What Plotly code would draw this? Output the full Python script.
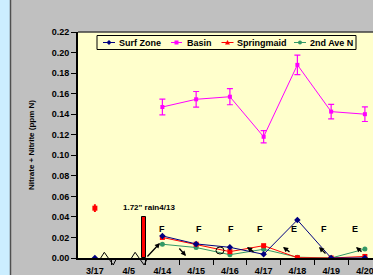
import plotly.graph_objects as go

# ---------------- data ----------------
categories = ["3/17", "4/5", "4/14", "4/15", "4/16", "4/17", "4/18", "4/19", "4/20"]
surf_zone = [0.000, None, 0.0215, 0.0137, 0.0104, 0.0036, 0.0370, 0.000, 0.000]
basin = [None, None, 0.1470, 0.1545, 0.1570, 0.1180, 0.1880, 0.1425, 0.1400]
basin_err = [0, 0, 0.0076, 0.0076, 0.0078, 0.0060, 0.0094, 0.0071, 0.0071]
springmaid = [0.0485, None, 0.0200, 0.0134, 0.0062, 0.0120, 0.0003, 0.000, 0.0015]
springmaid_err = [0.003, 0, 0, 0, 0, 0, 0, 0, 0]
ave2n = [None, None, 0.0134, 0.0102, 0.0032, 0.0085, 0.0008, 0.000, 0.0087]
rain_pos = [1.45]
rain_val = [0.040]
rain_label = '1.72" rain4/13'
flag_pos = [2.0, 3.09, 4.03, 4.88, 5.9, 6.79, 7.72]
flag_txt = ["F", "F", "F", "F", "E", "F", "E"]

xi = list(range(len(categories)))

# ---------------- geometry helpers (pixel -> paper) ----------------
W, H = 373, 275
L, R, T, B = 78, 0, 32, 17
PW, PH = W - L - R, H - T - B


def px(x):
    return (x - L) / PW


def py(y):
    return (H - B - y) / PH


FONT = "Liberation Sans, Arial, sans-serif"
NAVY, MAG, RED, GRN = "#000080", "#FF00FF", "#FF0000", "#339966"

fig = go.Figure()

fig.add_trace(go.Bar(x=rain_pos, y=rain_val, width=0.12, name="rain",
                     marker=dict(color=RED, line=dict(color="black", width=1)),
                     showlegend=False, hoverinfo="skip"))

fig.add_trace(go.Scatter(x=xi, y=basin, name="Basin", mode="lines+markers",
                         line=dict(color=MAG, width=1),
                         marker=dict(symbol="square", size=4, color=MAG),
                         error_y=dict(type="data", array=basin_err, color=MAG,
                                      thickness=1.2, width=3)))
fig.add_trace(go.Scatter(x=xi, y=ave2n, name="2nd Ave N", mode="lines+markers",
                         line=dict(color=GRN, width=1),
                         marker=dict(symbol="circle", size=5, color=GRN)))
fig.add_trace(go.Scatter(x=xi, y=springmaid, name="Springmaid", mode="lines+markers",
                         line=dict(color=RED, width=1),
                         marker=dict(symbol="square", size=5, color=RED),
                         error_y=dict(type="data", array=springmaid_err, color=RED,
                                      thickness=1.5, width=1)))
fig.add_trace(go.Scatter(x=xi, y=surf_zone, name="Surf Zone", mode="lines+markers",
                         line=dict(color=NAVY, width=1),
                         marker=dict(symbol="diamond", size=5, color=NAVY)))

shapes = []
ann = []

# left light-blue strip and chart border
shapes.append(dict(type="rect", xref="paper", yref="paper", x0=px(0), x1=px(10),
                   y0=py(H), y1=py(0), fillcolor="#CCEEFF", line=dict(width=0)))
shapes.append(dict(type="line", xref="paper", yref="paper", x0=px(10.5), x1=px(10.5),
                   y0=py(H), y1=py(0), line=dict(color="#505050", width=1.5)))
# plot area border (top)
shapes.append(dict(type="line", xref="paper", yref="paper", x0=0, x1=1, y0=1, y1=1,
                   line=dict(color="#404040", width=1.5)))

# axis-break zigzags
for x0 in (100.7, 131.5):
    pts = [(x0, 258), (x0 + 3.6, 252.3), (x0 + 7.6, 258), (x0 + 12.6, 265), (x0 + 16, 258)]
    path = "M " + " L ".join(f"{px(a):.5f},{py(b):.5f}" for a, b in pts)
    shapes.append(dict(type="path", xref="paper", yref="paper", path=path,
                       line=dict(color="black", width=1)))

# hollow circle near 4/16
shapes.append(dict(type="circle", xref="paper", yref="paper", x0=px(216), x1=px(224),
                   y0=py(254), y1=py(247), line=dict(color="black", width=1)))

# wind arrows (head x, head y, tail dx, tail dy) in pixels
arrows = [(160, 243, -14, 15), (186, 256, -8, -9), (247, 247, 8, 6),
          (283, 247, 8, 6), (319, 247, 8, 8), (356, 247, 7, 6)]
for hx, hy, dx, dy in arrows:
    ann.append(dict(x=px(hx), y=py(hy), xref="paper", yref="paper", ax=dx, ay=dy,
                    showarrow=True, arrowhead=2, arrowsize=0.8, arrowwidth=1.3,
                    arrowcolor="black", text=""))

# F / E flags
for fx, ft in zip(flag_pos, flag_txt):
    ann.append(dict(x=fx, y=0.0283, xref="x", yref="y", text=ft, showarrow=False,
                    xanchor="center", yanchor="middle",
                    font=dict(family=FONT, size=9, color="black", weight="bold")))

# rain label
ann.append(dict(x=px(148.7), y=py(207.7), xref="paper", yref="paper", text=rain_label,
                showarrow=False, xanchor="center", yanchor="middle",
                font=dict(family=FONT, size=8, color="black", weight="bold")))

# y axis title
ann.append(dict(x=px(31), y=0.5, xref="paper", yref="paper", text="Nitrate + Nitrite (ppm N)",
                textangle=-90, showarrow=False, xanchor="center", yanchor="middle",
                font=dict(family=FONT, size=8, color="black", weight="bold")))

# manual legend
shapes.append(dict(type="rect", xref="paper", yref="paper", x0=px(97), x1=px(356),
                   y0=py(49.5), y1=py(35.5), fillcolor="#FFFFCC",
                   line=dict(color="black", width=1)))
ly = 42.5
legend_items = [("Surf Zone", NAVY, 103, 115, 116.5, "diamond"),
                ("Basin", MAG, 171, 182, 184.5, "square"),
                ("Springmaid", RED, 221.5, 233.5, 235, "triangle"),
                ("2nd Ave N", GRN, 294, 306, 308, "circle")]
for name, col, a, b, tx, sym in legend_items:
    shapes.append(dict(type="line", xref="paper", yref="paper", x0=px(a), x1=px(b),
                       y0=py(ly), y1=py(ly), line=dict(color=col, width=1)))
    cx = (a + b) / 2
    if sym == "square":
        shapes.append(dict(type="rect", xref="paper", yref="paper", x0=px(cx - 2), x1=px(cx + 2),
                           y0=py(ly + 2), y1=py(ly - 2), fillcolor=col, line=dict(width=0)))
    elif sym == "circle":
        shapes.append(dict(type="circle", xref="paper", yref="paper", x0=px(cx - 2), x1=px(cx + 2),
                           y0=py(ly + 2), y1=py(ly - 2), fillcolor=col, line=dict(width=0)))
    elif sym == "diamond":
        pts = [(cx, ly - 2.5), (cx + 2.5, ly), (cx, ly + 2.5), (cx - 2.5, ly)]
        path = "M " + " L ".join(f"{px(p):.5f},{py(q):.5f}" for p, q in pts) + " Z"
        shapes.append(dict(type="path", xref="paper", yref="paper", path=path,
                           fillcolor=col, line=dict(width=0)))
    else:
        pts = [(cx, ly - 2.5), (cx + 2.5, ly + 2), (cx - 2.5, ly + 2)]
        path = "M " + " L ".join(f"{px(p):.5f},{py(q):.5f}" for p, q in pts) + " Z"
        shapes.append(dict(type="path", xref="paper", yref="paper", path=path,
                           fillcolor=col, line=dict(width=0)))
    ann.append(dict(x=px(tx), y=py(ly), xref="paper", yref="paper", text=name,
                    xanchor="left", yanchor="middle", showarrow=False,
                    font=dict(family=FONT, size=9, color="black", weight="bold")))

fig.update_layout(
    width=W, height=H,
    margin=dict(l=L, r=R, t=T, b=B, pad=0),
    paper_bgcolor="#C0C0C0",
    plot_bgcolor="#FFFFCC",
    showlegend=False,
    bargap=0,
    shapes=shapes,
    annotations=ann,
    font=dict(family=FONT, size=9, color="black", weight="bold"),
    xaxis=dict(type="linear", range=[-0.5, 8.24], tickmode="array", tickvals=xi,
               ticktext=categories, ticks="outside", ticklen=3,
               tickcolor="rgba(0,0,0,0)", showgrid=False, zeroline=False,
               showline=True, linecolor="black", linewidth=2, automargin=False,
               ticklabeloverflow="allow",
               tickfont=dict(family=FONT, size=9, color="black", weight="bold"),
               minor=dict(tickmode="array", tickvals=[i + 0.5 for i in range(8)],
                          ticks="outside", ticklen=5, tickcolor="black", tickwidth=1)),
    yaxis=dict(range=[0, 0.22], dtick=0.02, tick0=0, tickformat=".2f",
               ticks="outside", ticklen=5, tickcolor="black", tickwidth=1,
               showgrid=False, zeroline=False, showline=True, linecolor="black",
               linewidth=2, automargin=False,
               tickfont=dict(family=FONT, size=9, color="black", weight="bold")),
)

fig.write_html("out.html", config={"displayModeBar": False},
               post_script="document.body.style.margin='0';document.body.style.overflow='hidden';")
